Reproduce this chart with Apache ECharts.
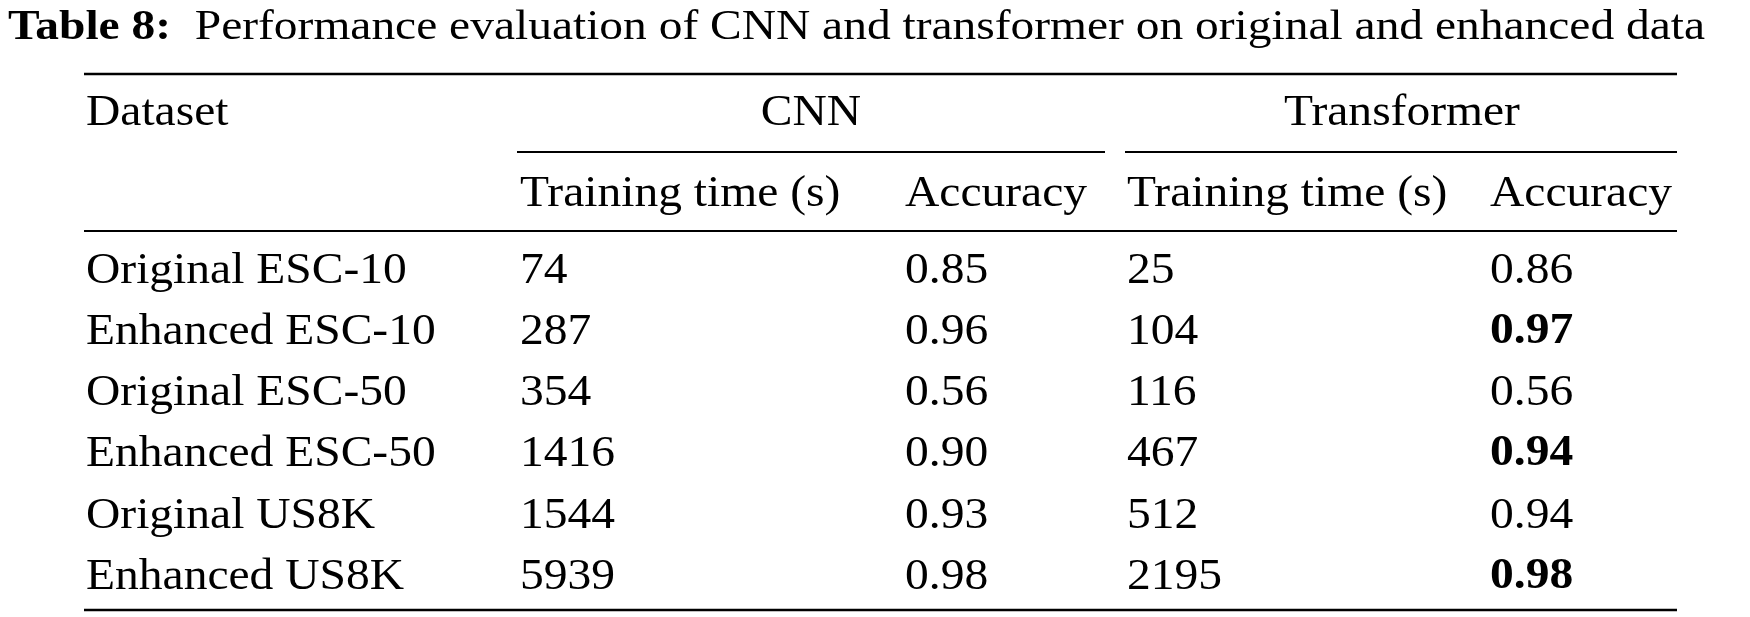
<!DOCTYPE html>
<html>
<head>
<meta charset="utf-8">
<script src="https://cdn.jsdelivr.net/npm/echarts@6/dist/echarts.min.js"></script>
<style>html,body{margin:0;padding:0;background:#fff}#main{width:1750px;height:617px}</style>
</head>
<body>
<div id="main"></div>
<script>
var datasets = ['Original ESC-10', 'Enhanced ESC-10', 'Original ESC-50', 'Enhanced ESC-50', 'Original US8K', 'Enhanced US8K'];
var cnnTime = ['74', '287', '354', '1416', '1544', '5939'];
var cnnAcc = ['0.85', '0.96', '0.56', '0.90', '0.93', '0.98'];
var trTime = ['25', '104', '116', '467', '512', '2195'];
var trAcc = ['0.86', '0.97', '0.56', '0.94', '0.94', '0.98'];
var trAccBold = [false, true, false, true, false, true];
var groupHeaders = ['CNN', 'Transformer'];
var subHeaders = ['Training time (s)', 'Accuracy', 'Training time (s)', 'Accuracy'];

var chart = echarts.init(document.getElementById('main'));
var font = '"Liberation Serif", "DejaVu Serif", serif';
var colX = [86, 520, 905, 1127, 1490];
var rowY = [271, 332, 393, 454, 516, 577];
var fs = 44;
var sx = 1.08;

function txt(s, x, y, opt) {
    opt = opt || {};
    return {
        type: 'text', x: x, y: y, scaleX: sx,
        style: {
            text: s, fill: '#000', font: (opt.bold ? 'bold ' : '') + (opt.size || fs) + 'px ' + font,
            textAlign: opt.align || 'left', textVerticalAlign: 'middle'
        }
    };
}
function rule(x1, x2, y, w) {
    return { type: 'line', shape: { x1: x1, y1: y, x2: x2, y2: y }, style: { stroke: '#000', lineWidth: w || 2 } };
}

var els = [];
els.push({
    type: 'text', x: 8, y: 28, scaleX: 1.13,
    style: { rich: { b: { font: 'bold 42px ' + font }, n: { font: '42px ' + font } },
        text: '{b|Table 8:}{n|  Performance evaluation of CNN and transformer on original and enhanced data}',
        fill: '#000', textVerticalAlign: 'middle' }
});
els.push(rule(84, 1677, 74, 2.5));
els.push(txt('Dataset', colX[0], 113));
els.push(txt(groupHeaders[0], 811, 113, { align: 'center' }));
els.push(txt(groupHeaders[1], 1402, 113, { align: 'center' }));
els.push(rule(517, 1105, 152, 2));
els.push(rule(1125, 1677, 152, 2));
subHeaders.forEach(function (h, i) { els.push(txt(h, colX[i + 1], 194)); });
els.push(rule(84, 1677, 231, 2));
datasets.forEach(function (d, i) {
    var y = rowY[i];
    els.push(txt(d, colX[0], y));
    els.push(txt(cnnTime[i], colX[1], y));
    els.push(txt(cnnAcc[i], colX[2], y));
    els.push(txt(trTime[i], colX[3], y));
    els.push(txt(trAcc[i], colX[4], y, { bold: trAccBold[i] }));
});
els.push(rule(84, 1677, 610, 2.5));

chart.setOption({ animation: false, graphic: { elements: els } });
</script>
</body>
</html>
